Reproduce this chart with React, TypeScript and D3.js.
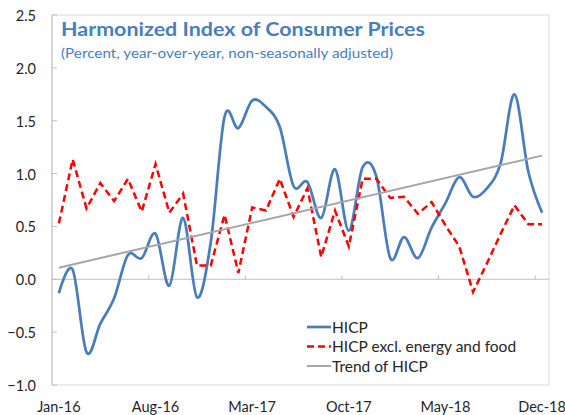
import * as d3 from "d3"

const months = [
  "Jan-16", "Feb-16", "Mar-16", "Apr-16", "May-16", "Jun-16", "Jul-16", "Aug-16", "Sep-16", "Oct-16", "Nov-16", "Dec-16",
  "Jan-17", "Feb-17", "Mar-17", "Apr-17", "May-17", "Jun-17", "Jul-17", "Aug-17", "Sep-17", "Oct-17", "Nov-17", "Dec-17",
  "Jan-18", "Feb-18", "Mar-18", "Apr-18", "May-18", "Jun-18", "Jul-18", "Aug-18", "Sep-18", "Oct-18", "Nov-18", "Dec-18",
]

const hicp = [
  -0.13, 0.09, -0.69, -0.42, -0.18, 0.23, 0.2, 0.43, -0.06, 0.58, -0.17, 0.35,
  1.54, 1.43, 1.69, 1.63, 1.44, 0.88, 0.92, 0.58, 1.04, 0.46, 1.06, 0.97,
  0.2, 0.4, 0.2, 0.49, 0.72, 0.965, 0.78, 0.86, 1.1, 1.75, 1.02, 0.63,
]

const hicpCore = [
  0.53, 1.135, 0.67, 0.91, 0.74, 0.95, 0.64, 1.09, 0.63, 0.81, 0.13, 0.13,
  0.61, 0.06, 0.68, 0.65, 0.95, 0.59, 0.86, 0.21, 0.65, 0.31, 0.95, 0.95,
  0.77, 0.78, 0.62, 0.73, 0.51, 0.31, -0.12, 0.15, 0.43, 0.7, 0.52, 0.52,
]

// trend line of HICP, start (Jan-16) and end (Dec-18) values
const trend = [0.11, 1.17]
const trendMonths = ["Jan-16", "Dec-18"]

const yTicks = [-1, -0.5, 0, 0.5, 1, 1.5, 2, 2.5]
const xLabels = ["Jan-16", "Aug-16", "Mar-17", "Oct-17", "May-18", "Dec-18"]
const xTickMarks = ["Aug-16", "Mar-17", "Oct-17", "May-18", "Dec-18"]

const legend = [
  { name: "HICP", color: "#4a7ebb", dash: "", width: 2.75 },
  { name: "HICP excl. energy and food", color: "#ff0000", dash: "7,4", width: 2.5 },
  { name: "Trend of HICP", color: "#a6a6a6", dash: "", width: 2 },
]

export default function App() {
  const width = 565
  const height = 415
  const left = 52
  const right = 549
  const top = 15
  const bottom = 385

  const x = d3.scaleBand<string>().domain(months).range([left, right])
  const xc = (m: string) => (x(m) ?? 0) + x.bandwidth() / 2
  const y = d3.scaleLinear().domain([-1, 2.5]).range([bottom, top])
  const fmt = d3.format(".1f")

  const smooth = d3
    .line<number>()
    .x((_, i) => xc(months[i]))
    .y((d) => y(d))
    .curve(d3.curveCardinal.tension(0))

  const straight = d3
    .line<number>()
    .x((_, i) => xc(months[i]))
    .y((d) => y(d))

  const trendLine = d3
    .line<number>()
    .x((_, i) => xc(trendMonths[i]))
    .y((d) => y(d))

  const font = "Lato, 'Open Sans', sans-serif"

  return (
    <svg
      width={width}
      height={height}
      style={{ position: "absolute", left: 0, top: 0, background: "#fff" }}
      fontFamily={font}
    >
      <rect x={left} y={top} width={right - left} height={bottom - top} fill="#fff" stroke="#d9d9d9" strokeWidth={1} />
      <line x1={left} x2={left} y1={top} y2={bottom} stroke="#bfbfbf" />

      {yTicks.map((t) => (
        <g key={t}>
          <line x1={left} x2={left + 5} y1={y(t)} y2={y(t)} stroke="#bfbfbf" />
          <text x={36} y={y(t) + 6} textAnchor="end" fontSize={14.5} fill="#262626">
            {fmt(t)}
          </text>
        </g>
      ))}

      <line x1={left} x2={right} y1={y(0)} y2={y(0)} stroke="#bfbfbf" />
      {xTickMarks.map((m) => (
        <line key={m} x1={x(m)} x2={x(m)} y1={y(0)} y2={y(0) - 4} stroke="#bfbfbf" />
      ))}
      {xLabels.map((m) => (
        <text key={m} x={xc(m)} y={412} textAnchor="middle" fontSize={14.5} fill="#262626">
          {m}
        </text>
      ))}

      <text x={61} y={35.5} fontSize={18.5} fontWeight="bold" fill="#4a7ebb" textLength={364} lengthAdjust="spacingAndGlyphs">
        Harmonized Index of Consumer Prices
      </text>
      <text x={61} y={57.5} fontSize={13} fill="#4a7ebb" textLength={332} lengthAdjust="spacingAndGlyphs">
        (Percent, year-over-year, non-seasonally adjusted)
      </text>

      <path d={smooth(hicp) ?? ""} fill="none" stroke={legend[0].color} strokeWidth={legend[0].width} />
      <path
        d={straight(hicpCore) ?? ""}
        fill="none"
        stroke={legend[1].color}
        strokeWidth={legend[1].width}
        strokeDasharray={legend[1].dash}
      />
      <path d={trendLine(trend) ?? ""} fill="none" stroke={legend[2].color} strokeWidth={legend[2].width} />

      {legend.map((s, i) => (
        <g key={s.name} transform={`translate(307,${327 + i * 19.5})`}>
          <line x1={0} x2={24} y1={0} y2={0} stroke={s.color} strokeWidth={s.width} strokeDasharray={s.dash} />
          <text x={25} y={5.5} fontSize={15.5} fill="#262626">
            {s.name}
          </text>
        </g>
      ))}
    </svg>
  )
}
